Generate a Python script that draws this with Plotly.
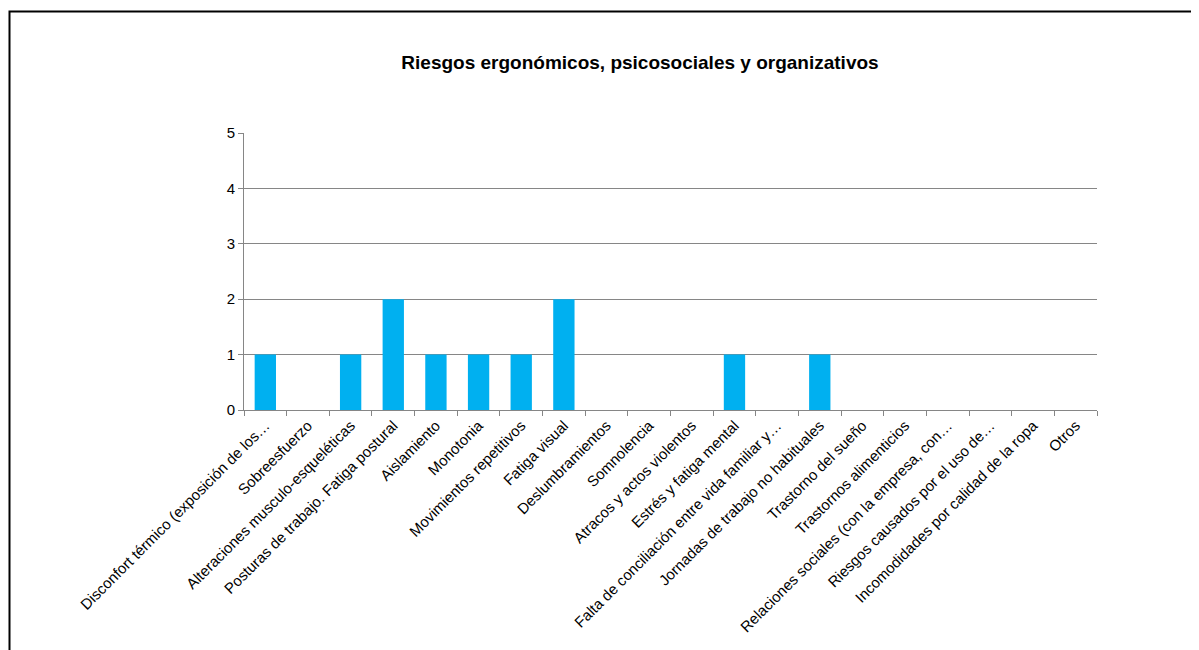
import plotly.graph_objects as go

# categorías y valores
categorias = [
    "Disconfort térmico (exposición de los…",
    "Sobreesfuerzo",
    "Alteraciones musculo-esqueléticas",
    "Posturas de trabajo. Fatiga postural",
    "Aislamiento",
    "Monotonia",
    "Movimientos repetitivos",
    "Fatiga visual",
    "Deslumbramientos",
    "Somnolencia",
    "Atracos y actos violentos",
    "Estrés y fatiga mental",
    "Falta de conciliación entre vida familiar y…",
    "Jornadas de trabajo no habituales",
    "Trastorno del sueño",
    "Trastornos alimenticios",
    "Relaciones sociales (con la empresa, con…",
    "Riesgos causados por el uso de…",
    "Incomodidades por calidad de la ropa",
    "Otros",
]
valores = [1, 0, 1, 2, 1, 1, 1, 2, 0, 0, 0, 1, 0, 1, 0, 0, 0, 0, 0, 0]
y_ticks = [0, 1, 2, 3, 4, 5]

titulo = "Riesgos ergonómicos, psicosociales y organizativos"

FONT = "Liberation Sans, Arial, sans-serif"
GRIS = "#868686"

# la página tiene un margen de 8 px, así que se resta a todo
OFF = 8
W, H = 1199, 650
L, R, T, B = 244 - OFF, 1097 - OFF, 133 - OFF, 410 - OFF

fig = go.Figure()
fig.add_trace(go.Bar(
    x=categorias,
    y=valores,
    marker=dict(color="#00B0F0", line=dict(width=0)),
    showlegend=False,
))

# marco exterior del gráfico (el borde izquierdo queda en el límite de la figura)
pw, ph = R - L, B - T
fig.add_shape(
    type="rect", xref="paper", yref="paper",
    x0=(1.5 - L) / pw, x1=(1230 - L) / pw,
    y0=(B - 700) / ph, y1=(B - (11.5 - OFF)) / ph,
    line=dict(color="black", width=2),
    fillcolor="rgba(0,0,0,0)",
    layer="below",
)

fig.update_layout(
    width=W, height=H,
    margin=dict(l=L, r=W - R, t=T, b=H - B, autoexpand=False),
    paper_bgcolor="white",
    plot_bgcolor="white",
    bargap=0.5,
    font=dict(family=FONT, color="black", size=15),
    title=dict(
        text="<b>" + titulo + "</b>",
        x=(640 - OFF) / W, xref="container", xanchor="center",
        y=1 - (62 - OFF) / H, yref="container", yanchor="middle",
        font=dict(family=FONT, size=19, color="black"),
    ),
    xaxis=dict(
        type="category",
        tickangle=-45,
        tickson="boundaries",
        ticks="outside", ticklen=5, tickcolor=GRIS,
        showline=True, linecolor=GRIS, linewidth=1,
        showgrid=False,
        automargin=False,
        tickfont=dict(family=FONT, size=15, color="black"),
    ),
    yaxis=dict(
        range=[0, 5],
        tickvals=y_ticks,
        ticks="outside", ticklen=5, tickcolor=GRIS,
        showline=True, linecolor=GRIS, linewidth=1,
        showgrid=True, gridcolor=GRIS, gridwidth=1,
        zeroline=False,
        automargin=False,
        tickfont=dict(family=FONT, size=15, color="black"),
    ),
)

fig.write_html("out.html")
